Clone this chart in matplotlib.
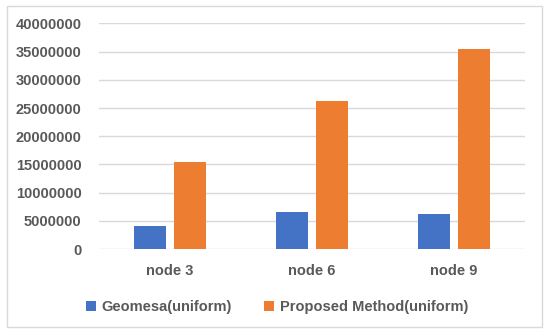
import matplotlib
matplotlib.use('Agg')
import matplotlib.pyplot as plt
import numpy as np
from matplotlib.patches import Rectangle

nodes = ['node 3', 'node 6', 'node 9']
geomesa = [4100000, 6500000, 6200000]
proposed = [15400000, 26200000, 35500000]
yticks = [0, 5000000, 10000000, 15000000, 20000000, 25000000, 30000000, 35000000, 40000000]

plt.rcParams['font.family'] = ['Liberation Sans', 'DejaVu Sans']
text_col = '#595959'
grid_col = '#d9d9d9'

fig = plt.figure(figsize=(5.5, 3.35), dpi=100)
ax = fig.add_axes([0.18, 0.2567, 0.7745, 0.6732])

x = np.arange(len(nodes))
w = 0.225
off = 0.144
ax.bar(x - off, geomesa, width=w, color='#4472c4', label='Geomesa(uniform)', zorder=3)
ax.bar(x + off, proposed, width=w, color='#ed7d31', label='Proposed Method(uniform)', zorder=3)

ax.set_xlim(-0.5, 2.5)
ax.set_ylim(0, 40000000)
ax.set_yticks(yticks)
ax.set_yticklabels([str(v) for v in yticks])
ax.set_xticks(x)
ax.set_xticklabels(nodes)
ax.grid(axis='y', color=grid_col, linewidth=1, zorder=0)
for s in ax.spines.values():
    s.set_visible(False)
ax.tick_params(length=0, labelsize=10.5, labelcolor=text_col)
ax.tick_params(axis='y', pad=12.5)
ax.tick_params(axis='x', pad=11)
for lab in ax.get_xticklabels() + ax.get_yticklabels():
    lab.set_fontweight('bold')

fig.legend(loc='center', bbox_to_anchor=(0.504, 0.084), ncol=2, frameon=False,
           handlelength=0.7, handleheight=0.7, handletextpad=0.4, columnspacing=2.2,
           prop={'size': 10.5, 'weight': 'bold'}, labelcolor=text_col)

fig.patches.append(Rectangle((7 / 550, 1 - 327 / 335), 535 / 550, 321 / 335,
                             transform=fig.transFigure, fill=False,
                             edgecolor=grid_col, linewidth=1))

fig.savefig('out.png', dpi=100)
